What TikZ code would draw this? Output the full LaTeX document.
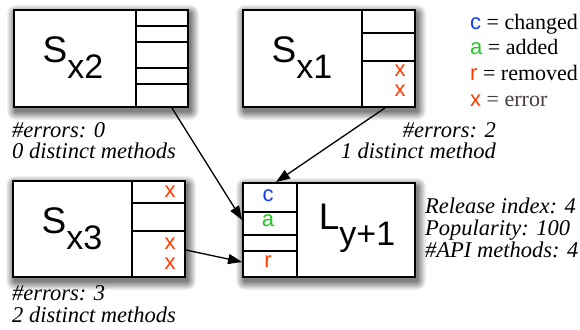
\documentclass[tikz,border=0pt]{standalone}
\usepackage{fontspec}
\setmainfont{Liberation Serif}
\setsansfont{Liberation Sans}
\usetikzlibrary{arrows.meta}
\definecolor{cblue}{RGB}{20,60,250}
\definecolor{cgreen}{RGB}{30,200,30}
\definecolor{cred}{RGB}{255,60,0}
\definecolor{errgray}{RGB}{70,60,60}
\newcommand{\softshadow}[4]{%
  \foreach \i in {9,8,...,1}{%
    \pgfmathsetmacro{\shd}{(10-\i)*5.5}%
    \fill[black!\shd, rounded corners=\i pt] (#1+2-\i,#2+4-\i) rectangle (#3+2+\i,#4+4+\i);%
  }}
\begin{document}
\begin{tikzpicture}[x=1pt,y=-1pt,
  box/.style={draw, line width=1.8pt, fill=white, rectangle, inner sep=0pt},
  inner/.style={line width=1.5pt},
  cell/.style={font=\sffamily\fontsize{22}{22}\selectfont, inner sep=0pt},
  lbl/.style={font=\sffamily\fontsize{37}{37}\selectfont, inner sep=0pt},
  note/.style={font=\itshape\fontsize{22.5}{22.5}\selectfont, inner sep=0pt},
  leg/.style={font=\fontsize{22}{22}\selectfont, inner sep=0pt, anchor=base west},
  arr/.style={line width=1.3pt, -{Triangle[length=14pt,width=10pt]}}
]
\useasboundingbox (0,0) rectangle (580,329);

% shadows
\softshadow{14}{10}{188}{107}
\softshadow{243}{10}{415}{107}
\softshadow{13}{181}{185}{277}
\softshadow{243}{183}{415}{277}

% S_x2
\node[box, minimum width=174pt, minimum height=97pt] (s2) at (101,58.5) {};
\draw[inner] (136,10) -- (136,107);
\draw[inner] (136,26) -- (188,26);
\draw[inner] (136,42) -- (188,42);
\draw[inner] (136,68) -- (188,68);
\draw[inner] (136,84) -- (188,84);
\node[lbl] (s2l) at (73,58) {S\raisebox{-16pt}{\fontsize{34}{34}\selectfont x2}};

% S_x1
\node[box, minimum width=172pt, minimum height=97pt] (s1) at (329,58.5) {};
\draw[inner] (362,10) -- (362,107);
\draw[inner] (362,33) -- (415,33);
\draw[inner] (362,61) -- (415,61);
\node[cell, text=cred] (x1a) at (400,71) {x};
\node[cell, text=cred] (x1b) at (400,91) {x};
\node[lbl] (s1l) at (302,58) {S\raisebox{-16pt}{\fontsize{34}{34}\selectfont x1}};

% S_x3
\node[box, minimum width=172pt, minimum height=96pt] (s3) at (99,229) {};
\draw[inner] (132,181) -- (132,277);
\draw[inner] (132,203) -- (185,203);
\draw[inner] (132,231) -- (185,231);
\node[cell, text=cred] (x3a) at (170,192) {x};
\node[cell, text=cred] (x3b) at (170,244) {x};
\node[cell, text=cred] (x3c) at (170,264) {x};
\node[lbl] (s3l) at (72,229) {S\raisebox{-16pt}{\fontsize{34}{34}\selectfont x3}};

% L_y+1
\node[box, minimum width=172pt, minimum height=94pt] (l) at (329,230) {};
\draw[inner] (297,183) -- (297,277);
\draw[inner] (243,212) -- (297,212);
\draw[inner] (243,235) -- (297,235);
\draw[inner] (243,251) -- (297,251);
\node[cell, text=cblue] (cc) at (268,196) {c};
\node[cell, text=cgreen] (ca) at (268,221) {a};
\node[cell, text=cred] (cr) at (268,262) {r};
\node[lbl] (ll) at (357,228) {L\raisebox{-16pt}{\fontsize{34}{34}\selectfont y+1}};

% notes
\node[note, anchor=base west] (n2a) at (12,137) {\#errors: 0};
\node[note, anchor=base west] (n2b) at (12,158) {0 distinct methods};
\node[note, anchor=base east] (n1a) at (496,137) {\#errors: 2};
\node[note, anchor=base east] (n1b) at (496,158) {1 distinct method};
\node[note, anchor=base west] (n3a) at (12,300) {\#errors: 3};
\node[note, anchor=base west] (n3b) at (12,322) {2 distinct methods};
\node[note, anchor=base west] (r1) at (425,213) {Release index: 4};
\node[note, anchor=base west] (r2) at (425,235) {Popularity: 100};
\node[note, anchor=base west] (r3) at (425,257) {\#API methods: 4};

% legend
\node[leg] (lg1) at (470,30) {{\sffamily\color{cblue}c} = changed};
\node[leg] (lg2) at (470,55) {{\sffamily\color{cgreen}a} = added};
\node[leg] (lg3) at (470,80) {{\sffamily\color{cred}r} = removed};
\node[leg] (lg4) at (470,106) {{\sffamily\color{cred}x} {\color{errgray}= error}};

% connectors
\draw[arr] ([xshift=-17pt]s2.south east) -- ([yshift=10pt]l.west);
\draw[arr] ([xshift=56pt]s1.south) -- ([xshift=-53pt]l.north);
\draw[arr] ([yshift=-21pt]s3.east) -- ([yshift=-32pt]l.west);
\end{tikzpicture}
\end{document}
